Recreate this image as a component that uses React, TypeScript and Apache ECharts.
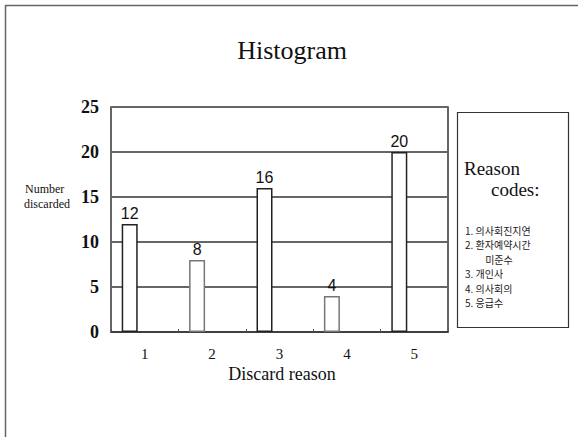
import React, { useEffect, useRef } from "react";
import * as echarts from "echarts";

const categories = ["1", "2", "3", "4", "5"];
const discarded = [12, 8, 16, 4, 20];
const barBorders = ["#222", "#777", "#222", "#777", "#222"];
const reasonLines = [
  "1. 의사회진지연",
  "2. 환자예약시간",
  "         미준수",
  "3. 개인사",
  "4. 의사회의",
  "5. 응급수",
];

const SERIF = "'Liberation Serif', 'DejaVu Serif', serif";
const CJK = "'Noto Sans CJK KR', sans-serif";

export default function App() {
  const ref = useRef<HTMLDivElement>(null);
  useEffect(() => {
    if (!ref.current) return;
    const chart = echarts.init(ref.current, null, { renderer: "svg" });
    chart.setOption({
      animation: false,
      backgroundColor: "#fff",
      grid: {
        left: 111,
        right: 130,
        top: 107,
        bottom: 105,
        show: true,
        borderColor: "#333",
        borderWidth: 1.5,
        backgroundColor: "transparent",
      },
      xAxis: {
        type: "category",
        data: categories,
        axisLine: { show: true, lineStyle: { color: "#333", width: 1.5 } },
        axisTick: { show: true, inside: true, length: 3, lineStyle: { color: "#555" } },
        axisLabel: { margin: 14, fontFamily: SERIF, fontSize: 15, color: "#111" },
      },
      yAxis: {
        type: "value",
        min: 0,
        max: 25,
        interval: 5,
        axisLine: { show: false },
        axisTick: { show: false },
        axisLabel: { margin: 12, fontFamily: SERIF, fontSize: 18, fontWeight: "bold", color: "#111" },
        splitLine: { show: true, lineStyle: { color: "#666", width: 2 } },
      },
      series: [
        {
          type: "bar",
          barWidth: 16,
          barGap: "87.5%",
          data: discarded.map((v, i) => ({
            value: v,
            itemStyle: { color: "#fff", borderColor: barBorders[i], borderWidth: 1.5 },
          })),
          label: {
            show: true,
            position: "top",
            distance: 3,
            fontFamily: "'Liberation Sans', Arial, sans-serif",
            fontSize: 16,
            color: "#111",
          },
        },
        {
          type: "bar",
          barWidth: 16,
          silent: true,
          data: categories.map(() => 0),
          itemStyle: { color: "transparent", borderWidth: 0 },
        },
      ],
      graphic: [
        { type: "line", shape: { x1: 5, y1: 5.5, x2: 578, y2: 5.5 }, style: { stroke: "#666", lineWidth: 1.5 } },
        { type: "line", shape: { x1: 5.5, y1: 5, x2: 5.5, y2: 437 }, style: { stroke: "#666", lineWidth: 1.5 } },
        {
          type: "text",
          x: 292,
          y: 50,
          style: { text: "Histogram", font: `26px ${SERIF}`, fill: "#111", textAlign: "center", textVerticalAlign: "middle" },
        },
        {
          type: "text",
          x: 282,
          y: 374,
          style: { text: "Discard reason", font: `18px ${SERIF}`, fill: "#111", textAlign: "center", textVerticalAlign: "middle" },
        },
        {
          type: "text",
          x: 25,
          y: 189,
          style: { text: "Number", font: `12px ${SERIF}`, fill: "#111", textAlign: "left", textVerticalAlign: "middle" },
        },
        {
          type: "text",
          x: 24,
          y: 204,
          style: { text: "discarded", font: `12px ${SERIF}`, fill: "#111", textAlign: "left", textVerticalAlign: "middle" },
        },
        {
          type: "rect",
          shape: { x: 457.5, y: 112.5, width: 111, height: 215 },
          style: { fill: "none", stroke: "#333", lineWidth: 1.2 },
        },
        {
          type: "text",
          x: 464,
          y: 168,
          style: { text: "Reason", font: `19px ${SERIF}`, fill: "#111", textAlign: "left", textVerticalAlign: "middle" },
        },
        {
          type: "text",
          x: 491,
          y: 189,
          style: { text: "codes:", font: `19px ${SERIF}`, fill: "#111", textAlign: "left", textVerticalAlign: "middle" },
        },
        {
          type: "text",
          x: 465,
          y: 223,
          style: {
            text: reasonLines.join("\n"),
            font: `10px ${CJK}`,
            lineHeight: 14.5,
            fill: "#222",
            textAlign: "left",
            textVerticalAlign: "top",
          },
        },
      ],
    });
    return () => chart.dispose();
  }, []);
  return (
    <div
      ref={ref}
      style={{ position: "fixed", left: 0, top: 0, width: 578, height: 437, background: "#fff" }}
    />
  );
}
